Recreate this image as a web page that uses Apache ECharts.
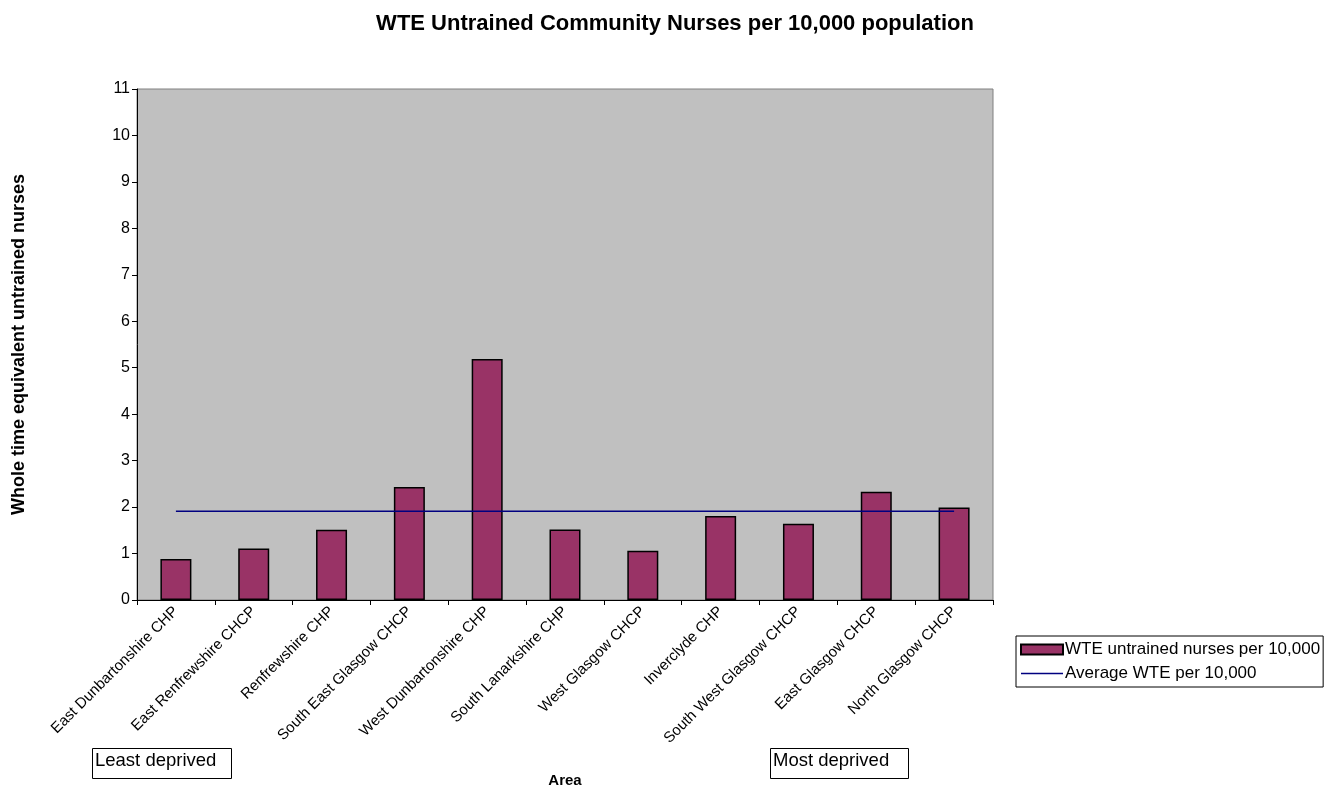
<!DOCTYPE html>
<html>
<head>
<meta charset="utf-8">
<script src="https://cdn.jsdelivr.net/npm/echarts@6/dist/echarts.min.js"></script>
<style>html,body{margin:0;padding:0;background:#fff}#c{width:1324px;height:785px}</style>
</head>
<body>
<div id="c"></div>
<script>
const categories = ["East Dunbartonshire CHP","East Renfrewshire CHCP","Renfrewshire CHP","South East Glasgow CHCP","West Dunbartonshire CHP","South Lanarkshire CHP","West Glasgow CHCP","Inverclyde CHP","South West Glasgow CHCP","East Glasgow CHCP","North Glasgow CHCP"];
const wteValues = [0.88, 1.11, 1.51, 2.43, 5.19, 1.52, 1.06, 1.81, 1.64, 2.33, 1.99];
const averageValue = 1.91;
const averageValues = categories.map(() => averageValue);
const yTicks = [0,1,2,3,4,5,6,7,8,9,10,11];

const font = 'Liberation Sans, Arial, sans-serif';
const chart = echarts.init(document.getElementById('c'));
chart.setOption({
  animation: false,
  backgroundColor: '#ffffff',
  textStyle: {fontFamily: font},
  title: {
    text: 'WTE Untrained Community Nurses per 10,000 population',
    left: 670, top: 8, textAlign: 'center',
    textStyle: {fontFamily: font, fontSize: 22, fontWeight: 'bold', color: '#000'}
  },
  grid: {left: 137, right: 331, top: 89, bottom: 185, outerBoundsMode: 'none', containLabel: false,
         show: true, backgroundColor: '#c0c0c0', borderColor: '#808080', borderWidth: 1},
  legend: {
    orient: 'vertical', left: 1016, top: 636,
    padding: [5, 3, 5, 4], itemGap: 7,
    borderColor: '#000', borderWidth: 1,
    itemWidth: 42, itemHeight: 10,
    textStyle: {fontFamily: font, fontSize: 17, color: '#000', padding: [0,0,0,-3]},
    data: [
      {name: 'WTE untrained nurses per 10,000', icon: 'rect'},
      {name: 'Average WTE per 10,000', icon: 'path://M0,0 L42,0 L42,1.5 L0,1.5 Z', itemStyle: {color: '#000080', borderWidth: 0}}
    ]
  },
  xAxis: {
    type: 'category', data: categories,
    name: 'Area', nameLocation: 'middle', nameGap: 173,
    nameTextStyle: {fontFamily: font, fontSize: 15, fontWeight: 'bold', color: '#000'},
    axisLine: {lineStyle: {color: '#000', width: 1}},
    axisTick: {show: true, alignWithLabel: false, length: 5, lineStyle: {color: '#000'}},
    axisLabel: {rotate: 45, fontFamily: font, fontSize: 15, color: '#000', interval: 0, margin: 9},
    splitLine: {show: false}
  },
  yAxis: {
    type: 'value', min: 0, max: 11, interval: 1,
    name: 'Whole time equivalent untrained nurses', nameLocation: 'middle', nameGap: 109,
    nameTextStyle: {fontFamily: font, fontSize: 18, fontWeight: 'bold', color: '#000'},
    axisLine: {show: true, lineStyle: {color: '#000'}},
    axisTick: {show: true, length: 5, lineStyle: {color: '#000'}},
    axisLabel: {fontFamily: font, fontSize: 16, color: '#000', margin: 7},
    splitLine: {show: false}
  },
  series: [
    {
      name: 'WTE untrained nurses per 10,000', type: 'bar', data: wteValues, barWidth: 31,
      itemStyle: {color: '#993366', borderColor: '#000', borderWidth: 1.5}
    },
    {
      name: 'Average WTE per 10,000', type: 'line', data: averageValues, symbol: 'none', showSymbol: false,
      lineStyle: {color: '#000080', width: 1.5}, itemStyle: {color: '#000080'}
    }
  ],
  graphic: [
    {type: 'rect', left: 92, top: 748, shape: {width: 139, height: 30}, style: {fill: '#fff', stroke: '#000', lineWidth: 1}},
    {type: 'text', left: 95, top: 751, style: {text: 'Least deprived', font: '18.5px ' + font, fill: '#000'}},
    {type: 'rect', left: 770, top: 748, shape: {width: 138, height: 30}, style: {fill: '#fff', stroke: '#000', lineWidth: 1}},
    {type: 'text', left: 773, top: 751, style: {text: 'Most deprived', font: '18.5px ' + font, fill: '#000'}}
  ]
});
</script>
</body>
</html>
